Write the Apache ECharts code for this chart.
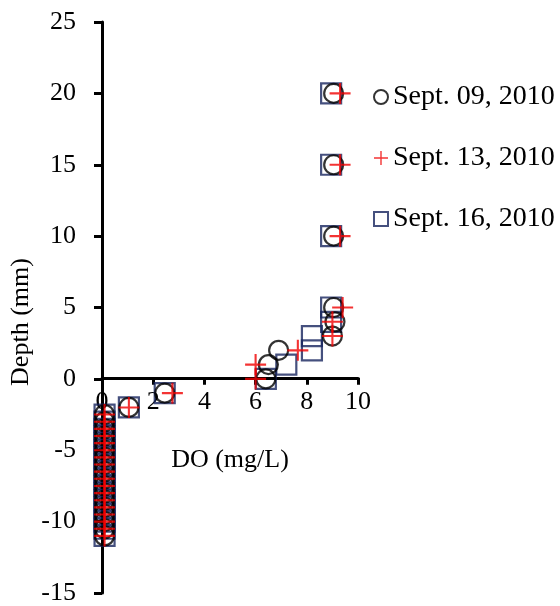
<!DOCTYPE html>
<html>
<head>
<meta charset="utf-8">
<script src="https://cdn.jsdelivr.net/npm/echarts@6/dist/echarts.min.js"></script>
<style>
  html, body { margin: 0; padding: 0; background: #fff; }
  #chart { width: 560px; height: 606px; }
</style>
</head>
<body>
<div id="chart"></div>
<script>
// Dissolved oxygen profiles: depth (mm) vs DO (mg/L) for three sampling dates
const seriesNames = ['Sept. 09, 2010', 'Sept. 13, 2010', 'Sept. 16, 2010'];

// Depths of each profile (mm); negative values are below the surface
const depthSep09 = [20, 15, 10, 5, 4, 3, 2, 1, 0, -1, -2,
  -2.5, -3, -3.5, -4, -4.5, -5, -5.5, -6, -6.5, -7, -7.5, -8, -8.5, -9, -9.5, -10, -10.5, -11];
const doSep09 = [9.05, 9.05, 9.05, 9.05, 9.1, 9.0, 6.9, 6.5, 6.4, 2.45, 1.05,
  0.1, 0.1, 0.1, 0.1, 0.1, 0.1, 0.1, 0.1, 0.1, 0.1, 0.1, 0.1, 0.1, 0.1, 0.1, 0.1, 0.1, 0.1];

const depthSep13 = [20, 15, 10, 5, 4, 3, 2, 1, 0, -1, -2,
  -2.5, -3, -3.5, -4, -4.5, -5, -5.5, -6, -6.5, -7, -7.5, -8, -8.5, -9, -9.5, -10, -10.5, -11];
const doSep13 = [9.3, 9.3, 9.3, 9.4, 9.0, 9.0, 7.65, 6.0, 6.0, 2.75, 1.05,
  0.1, 0.1, 0.1, 0.1, 0.1, 0.1, 0.1, 0.1, 0.1, 0.1, 0.1, 0.1, 0.1, 0.1, 0.1, 0.1, 0.1, 0.1];

const depthSep16 = [20, 15, 10, 5, 4, 3, 2, 1, 0, -1, -2,
  -2.5, -3, -3.5, -4, -4.5, -5, -5.5, -6, -6.5, -7, -7.5, -8, -8.5, -9, -9.5, -10, -10.5, -11];
const doSep16 = [8.95, 8.95, 8.95, 8.95, 8.95, 8.2, 8.2, 7.2, 6.4, 2.45, 1.05,
  0.1, 0.1, 0.1, 0.1, 0.1, 0.1, 0.1, 0.1, 0.1, 0.1, 0.1, 0.1, 0.1, 0.1, 0.1, 0.1, 0.1, 0.1];

const xTitle = 'DO (mg/L)';
const yTitle = 'Depth (mm)';

const FONT = '"Liberation Serif", "Times New Roman", serif';
const PLUS = 'path://M9,0H11V9H20V11H11V20H9V11H0V9H9Z';

// Plot area and axis ranges
const GRID = { left: 102, right: 202, top: 22, bottom: 10 };
const X_MIN = 0, X_MAX = 10;
const Y_MIN = -15, Y_MAX = 25;
const CHART_H = 606;

function pairs(xs, ys) {
  return xs.map((x, i) => [x, ys[i]]);
}

// Shift the DO axis up so that it crosses the depth axis at 0
const plotH = CHART_H - GRID.top - GRID.bottom;
const zeroFromBottom = plotH * (0 - Y_MIN) / (Y_MAX - Y_MIN);
const plotCenterX = GRID.left + (560 - GRID.left - GRID.right) / 2;

const chart = echarts.init(document.getElementById('chart'), null, { renderer: 'canvas' });

chart.setOption({
  animation: false,
  backgroundColor: '#fff',
  grid: Object.assign({ containLabel: false }, GRID),
  xAxis: {
    type: 'value',
    min: X_MIN, max: X_MAX, interval: 2,
    offset: -zeroFromBottom,
    axisLine: { onZero: false, lineStyle: { color: '#000', width: 3 } },
    axisTick: { show: true, inside: false, length: 7, lineStyle: { color: '#000', width: 3 } },
    axisLabel: { color: '#000', fontFamily: FONT, fontSize: 26, margin: 11 },
    splitLine: { show: false }
  },
  yAxis: {
    type: 'value',
    min: Y_MIN, max: Y_MAX, interval: 5,
    axisLine: { onZero: false, lineStyle: { color: '#000', width: 3 } },
    axisTick: { show: true, inside: false, length: 8, lineStyle: { color: '#000', width: 3 } },
    axisLabel: { color: '#000', fontFamily: FONT, fontSize: 26, margin: 26 },
    splitLine: { show: false }
  },
  legend: {
    orient: 'vertical',
    left: 368, top: 78,
    itemWidth: 14, itemHeight: 14,
    itemGap: 33,
    textStyle: { color: '#000', fontFamily: FONT, fontSize: 28, lineHeight: 28 },
    data: seriesNames
  },
  graphic: [
    {
      type: 'text', x: plotCenterX, y: 447,
      style: { text: xTitle, fill: '#000', font: '26px ' + FONT, align: 'center', verticalAlign: 'top' }
    },
    {
      type: 'text', x: 8, y: 322, rotation: Math.PI / 2,
      style: { text: yTitle, fill: '#000', font: '26px ' + FONT, align: 'center', verticalAlign: 'top' }
    }
  ],
  series: [
    {
      name: seriesNames[0], type: 'scatter', z: 3,
      symbol: 'circle', symbolSize: 19,
      itemStyle: { color: 'rgba(0,0,0,0)', borderColor: '#000', borderWidth: 2.2 },
      data: pairs(doSep09, depthSep09)
    },
    {
      name: seriesNames[1], type: 'scatter', z: 4,
      symbol: PLUS, symbolSize: 21,
      itemStyle: { color: '#f00000' },
      data: pairs(doSep13, depthSep13)
    },
    {
      name: seriesNames[2], type: 'scatter', z: 2,
      symbol: 'rect', symbolSize: 20,
      itemStyle: { color: 'rgba(0,0,0,0)', borderColor: '#16245e', borderWidth: 2.2 },
      data: pairs(doSep16, depthSep16)
    }
  ]
});
</script>
</body>
</html>
